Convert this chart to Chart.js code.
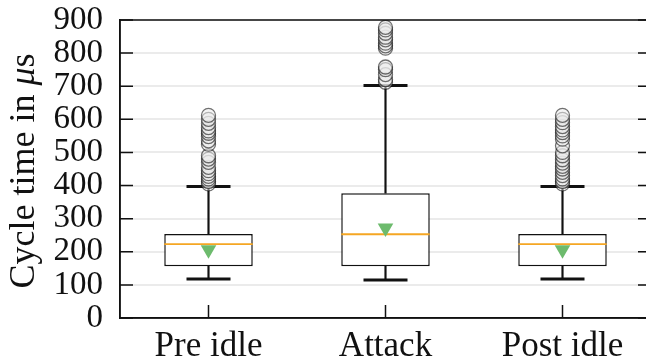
<!DOCTYPE html>
<html><head><meta charset="utf-8">
<script src="https://cdn.jsdelivr.net/npm/chart.js@4"></script>
<style>html,body{margin:0;padding:0;overflow:hidden;background:#fff}</style>
</head><body>
<canvas id="c" width="660" height="357" style="display:block"></canvas>
<script>
const categories = ['Pre idle', 'Attack', 'Post idle'];
const q1 = [156, 156, 156];
const q3 = [254, 377, 254];
const medians = [223, 253, 223];
const means = [206, 272, 206];
const whiskerLow = [118, 115, 118];
const whiskerHigh = [397, 702, 397];
const outliersPre = [405, 412, 420, 428, 436, 445, 455, 470, 480, 490, 525, 535, 548, 558, 565, 575, 588, 600, 612];
const outliersAttack = [712, 720, 735, 750, 758, 815, 822, 830, 840, 848, 860, 870, 878];
const outliersPost = [405, 412, 420, 430, 440, 450, 458, 468, 478, 490, 500, 520, 540, 550, 560, 568, 578, 590, 600, 612];
const yTicks = [0, 100, 200, 300, 400, 500, 600, 700, 800, 900];
const yTitleParts = [['Cycle time in ', 'normal'], ['μ', 'italic'], ['s', 'normal']];

const outlierLists = [outliersPre, outliersAttack, outliersPost];
const SERIF = "'Liberation Serif', 'Times New Roman', serif";
const INK = '#111';

const outlierPoints = [];
outlierLists.forEach((list, i) => list.forEach(v => outlierPoints.push({x: categories[i], y: v})));
const capPoints = [];
categories.forEach((c, i) => { capPoints.push({x: c, y: whiskerLow[i]}); capPoints.push({x: c, y: whiskerHigh[i]}); });

const framePlugin = {
  id: 'frame',
  afterDraw(chart) {
    const {ctx, chartArea: a, scales} = chart;
    ctx.save();
    ctx.strokeStyle = INK;
    ctx.lineWidth = 1.5;
    ctx.strokeRect(a.left, a.top, a.right - a.left, a.bottom - a.top);
    const L = 13;
    ctx.beginPath();
    yTicks.forEach(v => {
      const y = scales.y.getPixelForValue(v);
      ctx.moveTo(a.left, y); ctx.lineTo(a.left + L, y);
      ctx.moveTo(a.right, y); ctx.lineTo(a.right - L, y);
    });
    categories.forEach((c, i) => {
      const x = scales.x.getPixelForValue(i);
      ctx.moveTo(x, a.bottom); ctx.lineTo(x, a.bottom - L);
    });
    ctx.stroke();
    // y axis title with italic mu
    const fs = 36;
    const fonts = yTitleParts.map(p => (p[1] === 'italic' ? 'italic ' : '') + fs + 'px ' + SERIF);
    let total = 0;
    const widths = yTitleParts.map((p, i) => { ctx.font = fonts[i]; const w = ctx.measureText(p[0]).width; total += w; return w; });
    const cy = (a.top + a.bottom) / 2 + 2;
    ctx.translate(25, cy);
    ctx.rotate(-Math.PI / 2);
    ctx.fillStyle = INK;
    ctx.textBaseline = 'middle';
    ctx.textAlign = 'left';
    let x = -total / 2;
    yTitleParts.forEach((p, i) => { ctx.font = fonts[i]; ctx.fillText(p[0], x, 0); x += widths[i]; });
    ctx.restore();
  }
};

function noPad(s) { s.paddingTop = 0; s.paddingBottom = 0; s.paddingLeft = 0; s.paddingRight = 0; }

new Chart(document.getElementById('c'), {
  data: {
    labels: categories,
    datasets: [
      { type: 'bar', data: q1.map((v, i) => [v, q3[i]]), backgroundColor: '#fff', borderColor: INK,
        borderWidth: 1.5, borderSkipped: false, barPercentage: 0.5, categoryPercentage: 1, grouped: false, order: 5 },
      { type: 'bar', data: q3.map((v, i) => [v, whiskerHigh[i]]), backgroundColor: INK, borderWidth: 0,
        barThickness: 1.5, grouped: false, order: 6 },
      { type: 'bar', data: whiskerLow.map((v, i) => [v, q1[i]]), backgroundColor: INK, borderWidth: 0,
        barThickness: 1.5, grouped: false, order: 6 },
      { type: 'line', data: capPoints, showLine: false, pointStyle: 'line', pointRadius: 22,
        pointBorderWidth: 3, borderColor: INK, order: 4 },
      { type: 'line', data: medians, showLine: false, pointStyle: 'line', pointRadius: 44.25,
        pointBorderWidth: 1.8, borderColor: '#f5a623', order: 3 },
      { type: 'line', data: outlierPoints, showLine: false, pointStyle: 'circle', pointRadius: 7,
        pointBorderWidth: 1.3, borderColor: 'rgba(0,0,0,0.55)', backgroundColor: 'rgba(235,235,235,0.55)', order: 2 },
      { type: 'line', data: means, showLine: false, pointStyle: 'triangle', pointRotation: 180, pointRadius: 9,
        pointBorderWidth: 0, borderColor: 'rgba(0,0,0,0)', backgroundColor: '#6dbb6d', order: 1 }
    ]
  },
  options: {
    responsive: false,
    animation: false,
    events: [],
    layout: { autoPadding: false, padding: { top: 20, right: 9, left: 0, bottom: 0 } },
    plugins: { legend: { display: false }, tooltip: { enabled: false } },
    scales: {
      x: {
        type: 'category', offset: true,
        grid: { display: false, drawTicks: false },
        border: { display: true, color: INK, width: 1.5 },
        ticks: { color: INK, font: { family: SERIF, size: 35 }, padding: 8, maxRotation: 0 },
        afterFit(s) { s.height = 39; noPad(s); }
      },
      y: {
        min: 0, max: 900,
        grid: { color: '#ebebeb', lineWidth: 2, drawTicks: false },
        border: { display: true, color: INK, width: 1.5 },
        ticks: { stepSize: 100, autoSkip: false, color: INK, font: { family: SERIF, size: 33 }, padding: 17 },
        title: { display: false },
        afterFit(s) { s.width = 120; noPad(s); }
      }
    }
  },
  plugins: [framePlugin]
});
</script>
</body></html>
